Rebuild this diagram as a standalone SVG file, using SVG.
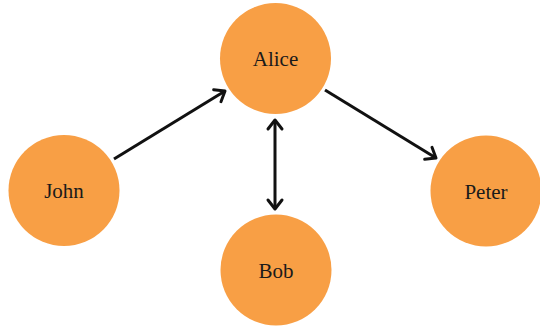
<svg xmlns="http://www.w3.org/2000/svg" width="540" height="326" viewBox="0 0 540 326">
<style>
.node circle{fill:#F89F45;}
.node text{font-family:"Liberation Serif","Times New Roman",serif;font-size:21px;fill:#1a1a1a;text-anchor:middle;dominant-baseline:central;}
.edge{stroke:#111;stroke-width:3;fill:none;}
</style>
<defs>
<marker id="arr" markerUnits="userSpaceOnUse" markerWidth="20" markerHeight="20" refX="12" refY="10" orient="auto-start-reverse" viewBox="0 0 20 20">
<path d="M3,3 L12,10 L3,17" fill="none" stroke="#111" stroke-width="3" stroke-linecap="round" stroke-linejoin="round"/>
</marker>
</defs>
<rect width="540" height="326" fill="#fff"/>
<g id="connectors">
<line class="edge" x1="114" y1="159" x2="225" y2="91" marker-end="url(#arr)"/>
<line class="edge" x1="275" y1="120" x2="275" y2="209" marker-start="url(#arr)" marker-end="url(#arr)"/>
<line class="edge" x1="325" y1="90" x2="436" y2="158" marker-end="url(#arr)"/>
</g>
<g id="alice" class="node"><circle cx="275.5" cy="58.5" r="55.5"/><text x="275.5" y="59">Alice</text></g>
<g id="john" class="node"><circle cx="64" cy="190.5" r="55.5"/><text x="64" y="191">John</text></g>
<g id="bob" class="node"><circle cx="276" cy="270" r="55.5"/><text x="276" y="271">Bob</text></g>
<g id="peter" class="node"><circle cx="486" cy="191" r="55.5"/><text x="486" y="192">Peter</text></g>
</svg>
